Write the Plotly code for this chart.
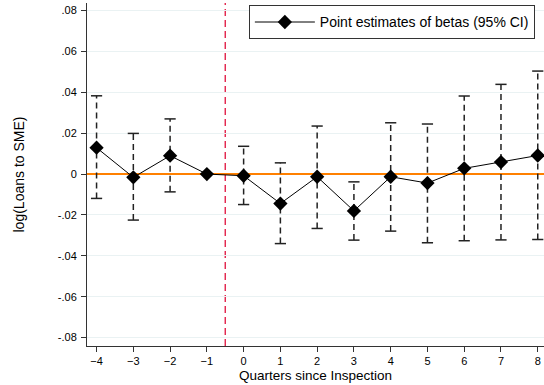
import plotly.graph_objects as go

quarters = [-4, -3, -2, -1, 0, 1, 2, 3, 4, 5, 6, 7, 8]
beta = [0.0129, -0.0016, 0.0090, 0.0, -0.0008, -0.0144, -0.0013, -0.0180, -0.0013, -0.0044, 0.0028, 0.0059, 0.0091]
ci_hi = [0.0383, 0.0199, 0.0270, None, 0.0136, 0.0055, 0.0235, -0.0038, 0.0251, 0.0245, 0.0382, 0.0439, 0.0504]
ci_lo = [-0.0119, -0.0225, -0.0087, None, -0.0149, -0.0340, -0.0266, -0.0323, -0.0279, -0.0336, -0.0326, -0.0322, -0.0320]

ytick_vals = [-0.08, -0.06, -0.04, -0.02, 0, 0.02, 0.04, 0.06, 0.08]
ytick_text = ["-.08", "-.06", "-.04", "-.02", "0", ".02", ".04", ".06", ".08"]
event_line = -0.5

W, H = 544, 385
ml, mr, mt, mb = 87, 0, 3, 39
plot_h = H - mt - mb
plot_w = W - ml - mr

font = "Liberation Sans, Arial, Helvetica, sans-serif"

# CI segments
cx, cy, capx, capy = [], [], [], []
for q, lo, hi in zip(quarters, ci_lo, ci_hi):
    if lo is None or hi is None:
        continue
    cx += [q, q, None]
    cy += [lo, hi, None]
    capx += [q, q]
    capy += [lo, hi]

fig = go.Figure()
fig.add_shape(type="line", xref="x", yref="paper", x0=event_line, x1=event_line, y0=0, y1=1,
              line=dict(color="#e0103c", width=1.3, dash="7px,4px"), layer="below")

fig.add_trace(go.Scatter(
    x=cx, y=cy, mode="lines", showlegend=False, hoverinfo="skip",
    line=dict(color="#222222", width=1.5, dash="6px,4px"),
))
fig.add_trace(go.Scatter(
    x=capx, y=capy, mode="markers", showlegend=False, hoverinfo="skip",
    marker=dict(symbol="line-ew", size=8, line=dict(color="#222222", width=1.5)),
))
fig.add_trace(go.Scatter(
    x=quarters, y=beta, mode="lines+markers",
    name="Point estimates of betas (95% CI)",
    line=dict(color="black", width=1),
    marker=dict(symbol="diamond", size=11, color="black"),
))

fig.update_layout(
    width=W, height=H,
    margin=dict(l=ml, r=mr, t=mt, b=mb, autoexpand=False),
    paper_bgcolor="white", plot_bgcolor="white",
    font=dict(family=font, size=11, color="black"),
    showlegend=True,
    legend=dict(
        x=0.98, y=0.993, xanchor="right", yanchor="top",
        bordercolor="#333333", borderwidth=1, bgcolor="white",
        font=dict(size=14, family=font), itemwidth=60,
        tracegroupgap=0,
    ),
    xaxis=dict(
        range=[-4.26, 8.17], tickvals=quarters, ticks="outside", ticklen=5,
        tickcolor="#333333", showgrid=False, zeroline=False, automargin=False,
        showline=True, linecolor="#333333", linewidth=1,
        tickfont=dict(size=11), ticklabelstandoff=0,
    ),
    yaxis=dict(
        range=[-0.0841, 0.0837], tickvals=ytick_vals, ticktext=ytick_text,
        ticks="outside", ticklen=5, tickcolor="#333333", automargin=False,
        showgrid=True, gridcolor="#eaf2f3", gridwidth=1,
        zeroline=True, zerolinecolor="#ff8000", zerolinewidth=1.5,
        showline=True, linecolor="#333333", linewidth=1,
        tickfont=dict(size=11), ticklabelstandoff=2,
    ),
)
fig.add_annotation(
    text="log(Loans to SME)", xref="paper", yref="paper",
    x=-(ml - 18) / plot_w, y=0.5, xanchor="center", yanchor="middle",
    textangle=-90, showarrow=False, font=dict(size=14, family=font),
)
fig.add_annotation(
    text="Quarters since Inspection", xref="paper", yref="paper",
    x=0.5, y=-29 / plot_h, xanchor="center", yanchor="middle",
    showarrow=False, font=dict(size=13.5, family=font),
)

fig.write_html(
    "out.html",
    config={"displayModeBar": False},
    post_script="document.body.style.margin='0px';document.body.style.padding='0px';document.body.style.overflow='hidden';",
)
